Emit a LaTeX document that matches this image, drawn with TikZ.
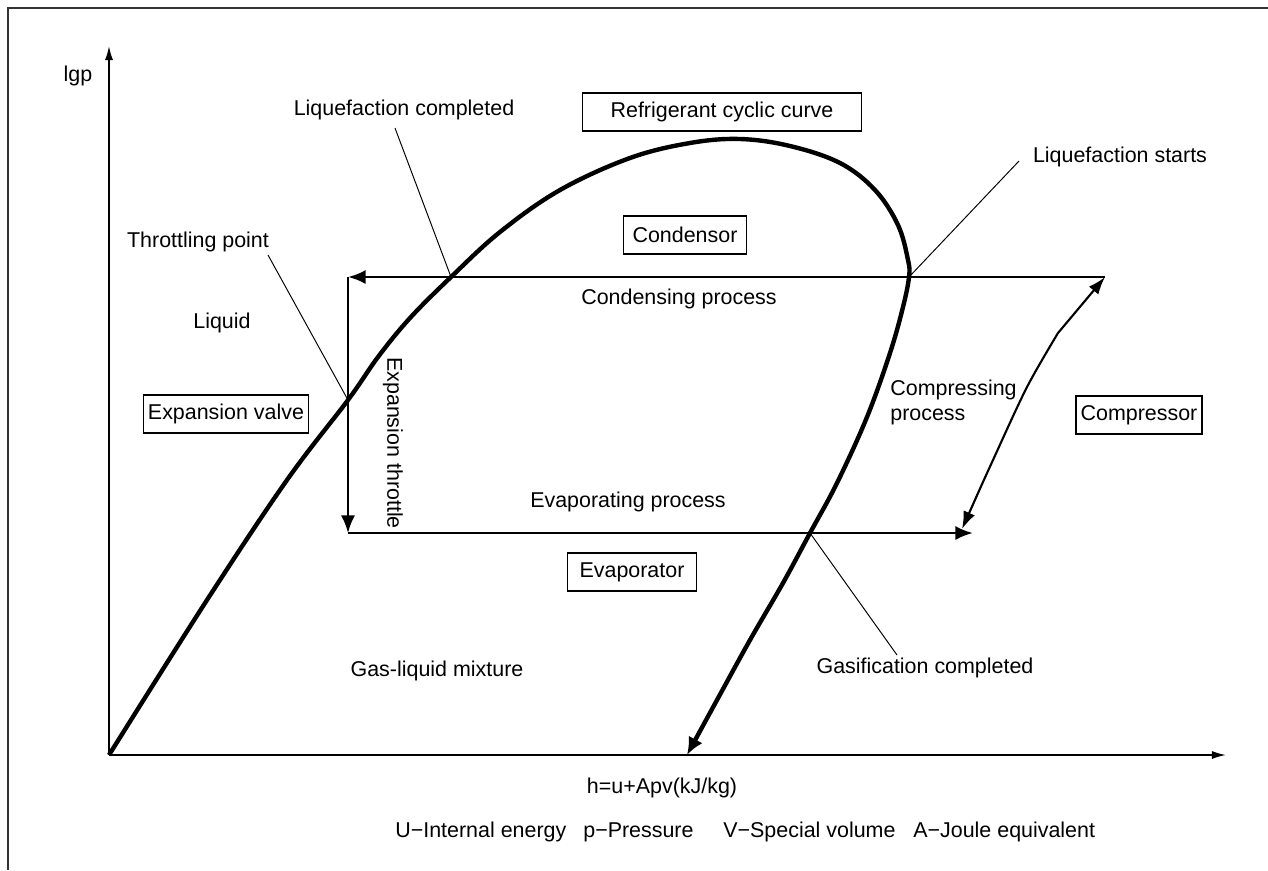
\documentclass[tikz,border=0pt]{standalone}
\usepackage{fontspec}
\setmainfont{Liberation Sans}
\usetikzlibrary{arrows.meta}

\tikzset{
	box/.style={draw, line width=0.8pt, minimum height=0.76cm, inner xsep=0.08cm},
	lbl/.style={inner sep=0pt},
	leader/.style={line width=0.55pt},
	axis/.style={line width=0.9pt, -{Latex[length=8pt,width=4.6pt]}},
	flow/.style={line width=1.5pt, -{Latex[length=10pt,width=8pt]}},
	sat/.style={line width=2.5pt, -{Latex[length=10pt,width=9pt]}},
}

\begin{document}
\begin{tikzpicture}[x=0.02cm, y=-0.02cm, font=\fontsize{12.2}{14.2}\selectfont]
	 \useasboundingbox (0,0) rectangle (1268,870);
	 \draw[line width=1pt, black!80] (1268,8) -- (8,8) -- (8,870);

	 % axes
	 \coordinate (O) at (109,755);
	 \coordinate (ytip) at (109,46);
	 \coordinate (xtip) at (1226,755);
	 \draw[axis] (O) -- (ytip);
	 \draw[axis] (O) -- (xtip);
	 \node[lbl] (lgp) at (78,76) {lgp};

	 % saturation curve
	 \coordinate (thr) at (348,400);
	 \coordinate (lqc) at (451,277);
	 \coordinate (lqs) at (909,277);
	 \coordinate (gas) at (810,533);
	 \draw[sat] plot[smooth, tension=0.6] coordinates {(O) (207,600) (287,480) (thr) (378,357) (410,318) (lqc) (500,232) (560,190) (630,158) (690,143) (740,139) (790,146) (840,163) (875,190) (898,225) (908,260) (lqs) (903,307) (890,353) (867,417) (837,483) (gas) (783,583) (750,640) (717,700) (687,755)};

	 % cycle
	 \coordinate (A) at (1105,277);
	 \coordinate (B) at (348,277);
	 \coordinate (C) at (348,533);
	 \coordinate (D) at (973,533);
	 \draw[flow] (A) -- (B);
	 \draw[flow, line width=1.3pt] (B) -- (C);
	 \draw[flow] (C) -- (D);
	 \draw[line width=1.2pt, {Latex[length=10pt,width=7pt]}-{Latex[length=10pt,width=7pt]}]
		 plot[smooth] coordinates {(962,529) (993,460) (1027,387) (1058,333)} -- (A);

	 % boxes
	 \node[box, minimum width=5.58cm] (cyc) at (722,112) {Refrigerant cyclic curve};
	 \node[box, minimum width=2.46cm] (cond) at (685,235) {Condensor};
	 \node[box, minimum width=3.3cm] (valve) at (226,414) {Expansion valve};
	 \node[box, minimum width=2.52cm] (comp) at (1139,415) {Compressor};
	 \node[box, minimum width=2.58cm] (evap) at (632,572) {Evaporator};

	 % labels
	 \node[lbl] (liqc) at (404,110) {Liquefaction completed};
	 \node[lbl] (liqs) at (1120,157) {Liquefaction starts};
	 \node[lbl] (thrp) at (198,242) {Throttling point};
	 \node[lbl] (liq) at (222,323) {Liquid};
	 \node[lbl] (condp) at (679,299) {Condensing process};
	 \node[lbl, rotate=-90] (expt) at (393,443) {Expansion throttle};
	 \node[lbl, align=left, anchor=west] (compp) at (890,402) {Compressing\\process};
	 \node[lbl] (evapp) at (628,502) {Evaporating process};
	 \node[lbl] (mix) at (437,671) {Gas-liquid mixture};
	 \node[lbl] (gasc) at (925,668) {Gasification completed};
	 \node[lbl] (hlab) at (662,788) {h=u+Apv(kJ/kg)};

	 \node[lbl, anchor=west] (u) at (395,832) {U−Internal energy};
	 \node[lbl, anchor=west] (p) at (583,832) {p−Pressure};
	 \node[lbl, anchor=west] (v) at (723,832) {V−Special volume};
	 \node[lbl, anchor=west] (a) at (913,832) {A−Joule equivalent};

	 % leaders
	 \coordinate (liqc-end) at (395,128);
	 \coordinate (liqs-end) at (1019,161);
	 \coordinate (thrp-end) at (268,255);
	 \coordinate (gasc-end) at (897,655);
	 \draw[leader] (liqc-end) -- (lqc);
	 \draw[leader] (liqs-end) -- (lqs);
	 \draw[leader] (thrp-end) -- (thr);
	 \draw[leader] (gasc-end) -- (gas);
	\end{tikzpicture}
\end{document}
